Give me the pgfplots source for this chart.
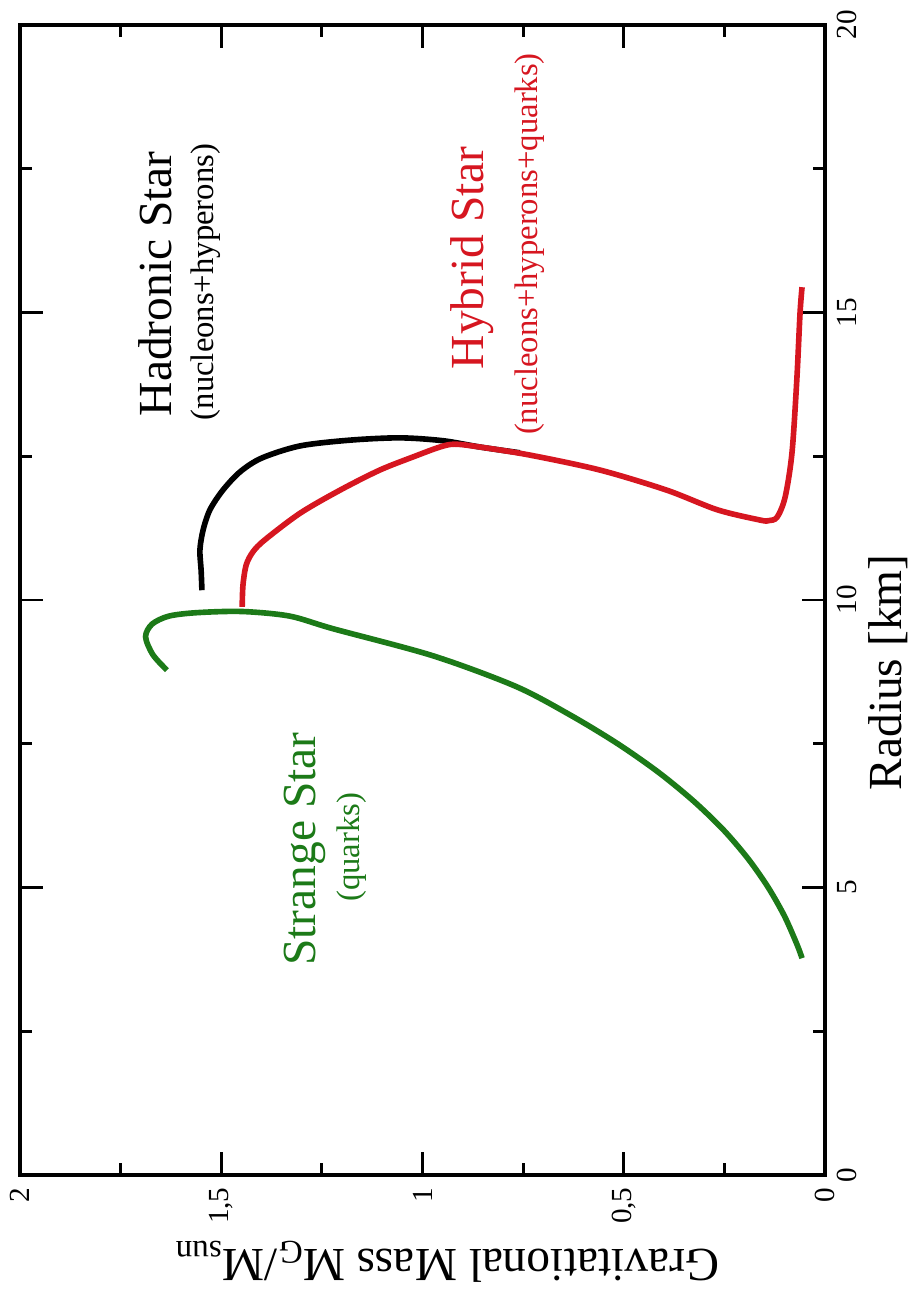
\documentclass[border=0pt]{standalone}
\usepackage{fontspec}
\setmainfont{Liberation Serif}
\usepackage{pgfplots}
\pgfplotsset{compat=1.18}
\usepackage{pgfplotstable}

\definecolor{strangegreen}{RGB}{28,122,24}
\definecolor{hybridred}{RGB}{214,22,32}

% mass-radius relations: radius R in km, gravitational mass M in solar masses
\pgfplotstableread{
R M
10.17 1.548
10.52 1.550
10.87 1.553
11.22 1.545
11.57 1.528
11.91 1.496
12.23 1.453
12.47 1.399
12.68 1.304
12.78 1.180
12.82 1.056
12.77 0.949
12.66 0.857
12.56 0.758
}\hadronic

\pgfplotstableread{
R M
9.88 1.448
10.26 1.446
10.61 1.438
10.84 1.421
11.05 1.391
11.51 1.304
11.91 1.205
12.26 1.106
12.50 1.019
12.66 0.957
12.71 0.920
12.66 0.857
12.52 0.733
12.26 0.559
11.91 0.393
11.57 0.268
11.39 0.161
11.38 0.140
11.44 0.119
11.79 0.099
12.56 0.082
13.83 0.070
14.99 0.062
15.44 0.057
}\hybrid

\pgfplotstableread{
R M
8.78 1.635
9.05 1.670
9.36 1.688
9.58 1.672
9.72 1.630
9.78 1.560
9.80 1.448
9.72 1.330
9.50 1.222
9.03 0.974
8.50 0.769
8.00 0.633
7.50 0.515
7.00 0.413
6.50 0.326
6.00 0.252
5.50 0.191
5.00 0.141
4.50 0.1005
4.00 0.069
3.77 0.057
}\strange

\begin{document}
\begin{tikzpicture}[rotate=90, transform shape]
\begin{axis}[
  scale only axis,
  width=11.5cm, height=8.05cm,
  xmin=0, xmax=20, ymin=0, ymax=2,
  xtick={0,5,10,15,20}, minor xtick={2.5,7.5,12.5,17.5},
  ytick={0,0.5,1,1.5,2}, minor ytick={0.25,0.75,1.25,1.75},
  tick align=inside, tick pos=both,
  major tick length=2.3mm, minor tick length=1.2mm,
  every tick/.style={black, line width=0.8pt},
  axis line style={line width=1.1pt},
  /pgf/number format/use comma,
  /pgf/number format/assume math mode=true,
  tick label style={font=\fontsize{8.3}{10}\selectfont},
  xlabel={Radius [km]},
  ylabel={Gravitational Mass M\textsubscript{G}/M\textsubscript{sun}},
  label style={font=\fontsize{13.5}{16}\selectfont},
  xlabel style={at={(axis description cs:0.437,-0.078)}, anchor=center},
  ylabel style={at={(axis description cs:-0.0757,0.47)}, anchor=center},
  clip=false,
]
\addplot[black, line width=1.6pt, smooth] table[x=R, y=M] {\hadronic};
\addplot[strangegreen, line width=1.6pt, smooth] table[x=R, y=M] {\strange};
\addplot[hybridred, line width=1.6pt, smooth, tension=0.5] table[x=R, y=M] {\hybrid};

\node[font=\fontsize{13.5}{16}\selectfont] at (axis cs:15.50,1.665) {Hadronic Star};
\node[font=\fontsize{9.3}{11}\selectfont] at (axis cs:15.53,1.538) {(nucleons+hyperons)};
\node[hybridred, font=\fontsize{13.5}{16}\selectfont] at (axis cs:15.95,0.877) {Hybrid Star};
\node[hybridred, font=\fontsize{9.3}{11}\selectfont] at (axis cs:16.19,0.733) {(nucleons+hyperons+quarks)};
\node[strangegreen, font=\fontsize{13.5}{16}\selectfont] at (axis cs:5.67,1.292) {Strange Star};
\node[strangegreen, font=\fontsize{9.3}{11}\selectfont] at (axis cs:5.70,1.175) {(quarks)};
\end{axis}
\pgfresetboundingbox
\path[use as bounding box] (-1.29,-0.92) rectangle (11.75,8.25);
\end{tikzpicture}
\end{document}
